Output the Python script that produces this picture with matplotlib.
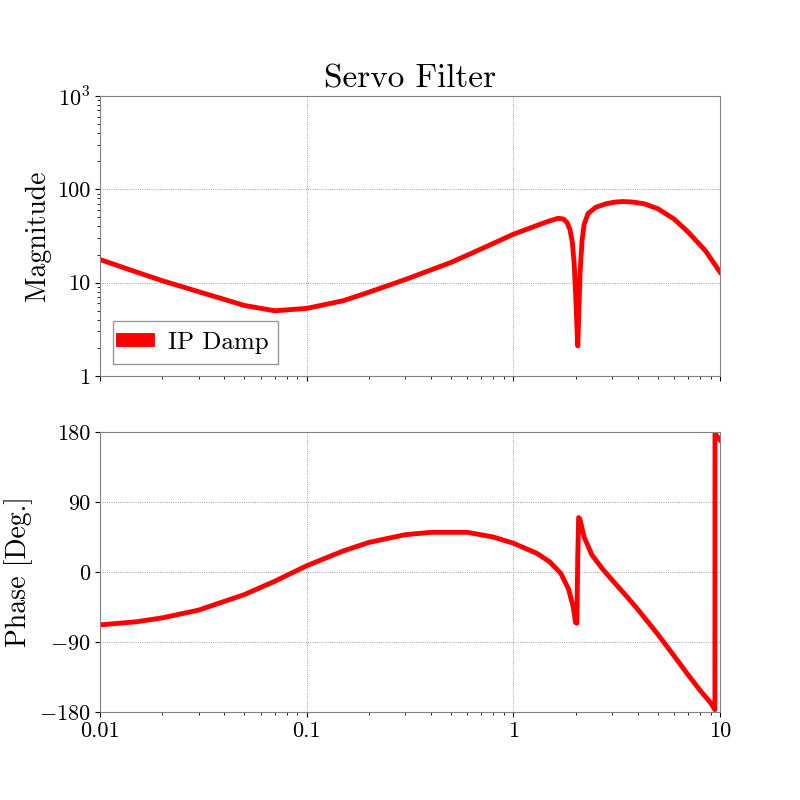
import numpy as np
import matplotlib
matplotlib.use("Agg")
import matplotlib.pyplot as plt

plt.rcParams['font.family'] = 'cmr10'
plt.rcParams['mathtext.fontset'] = 'cm'
plt.rcParams['axes.unicode_minus'] = False
plt.rcParams['axes.formatter.use_mathtext'] = True

# values
freq_mag = [0.01, 0.015, 0.02, 0.03, 0.05, 0.07, 0.1, 0.15, 0.2, 0.3, 0.5, 0.7, 1.0,
            1.3, 1.5, 1.65, 1.75, 1.82, 1.88, 1.93, 1.97, 2.0, 2.03, 2.05, 2.07,
            2.1, 2.15, 2.2, 2.3, 2.5, 2.8, 3.1, 3.4, 3.8, 4.3, 5.0, 6.0, 7.0, 8.5, 10.0]
magnitude = [17.7, 13.0, 10.5, 8.0, 5.7, 5.0, 5.3, 6.4, 7.9, 10.8, 16.5, 23.0, 33.0,
             41.0, 46.0, 49.0, 48.0, 44.0, 37.0, 27.0, 16.0, 8.0, 3.5, 2.1, 4.0,
             12.0, 28.0, 42.0, 55.0, 64.0, 70.0, 73.0, 74.0, 73.0, 70.0, 62.0, 48.0, 35.0, 22.0, 13.0]

freq_ph = [0.01, 0.015, 0.02, 0.03, 0.05, 0.07, 0.1, 0.15, 0.2, 0.3, 0.4, 0.6, 0.8, 1.0,
           1.3, 1.5, 1.7, 1.85, 1.95, 2.0, 2.03, 2.05, 2.07, 2.1, 2.2, 2.4, 2.7, 3.0,
           3.5, 4.0, 5.0, 6.0, 7.0, 8.0, 9.0, 9.45, 9.46, 10.0]
phase = [-68, -64, -59, -49, -29, -12, 8, 27, 38, 48, 51, 51, 45, 37,
         24, 13, -2, -22, -45, -65, -66, 20, 70, 68, 45, 22, 4, -10,
         -30, -48, -80, -108, -132, -152, -168, -177, 178, 170]

fig, (ax1, ax2) = plt.subplots(2, 1, figsize=(8, 8), dpi=100, sharex=True)
fig.subplots_adjust(left=0.125, right=0.9, top=0.88, bottom=0.11, hspace=0.2)

ax1.loglog(freq_mag, magnitude, color='red', lw=3.5, label='IP Damp')
ax1.set_ylim(1, 1000)
ax1.set_yticks([1, 10, 100, 1000])
ax1.set_yticklabels(['1', '10', '100', r'$10^3$'])
ax1.set_ylabel('Magnitude', fontsize=20)
ax1.set_title('Servo Filter', fontsize=24)
ax1.grid(True, which='major', ls=':', lw=0.6, color='gray')
leg = ax1.legend(loc='lower left', fontsize=18, fancybox=False, handlelength=1.0,
                 handleheight=0.6, edgecolor='gray')
for h in leg.legend_handles:
    h.set_linewidth(10)

ax2.semilogx(freq_ph, phase, color='red', lw=3.5)
ax2.set_ylim(-180, 180)
ax2.set_yticks([-180, -90, 0, 90, 180])
ax2.set_yticklabels([r'$-180$', r'$-90$', '0', '90', '180'])
ax2.set_ylabel('Phase [Deg.]', fontsize=20)
ax2.grid(True, which='major', ls=':', lw=0.6, color='gray')
ax2.set_xlim(0.01, 10)
ax2.set_xticks([0.01, 0.1, 1, 10])
ax2.set_xticklabels(['0.01', '0.1', '1', '10'])

for ax in (ax1, ax2):
    ax.tick_params(labelsize=16, direction='out')
    for s in ax.spines.values():
        s.set_color('gray')

fig.savefig('out.png')
